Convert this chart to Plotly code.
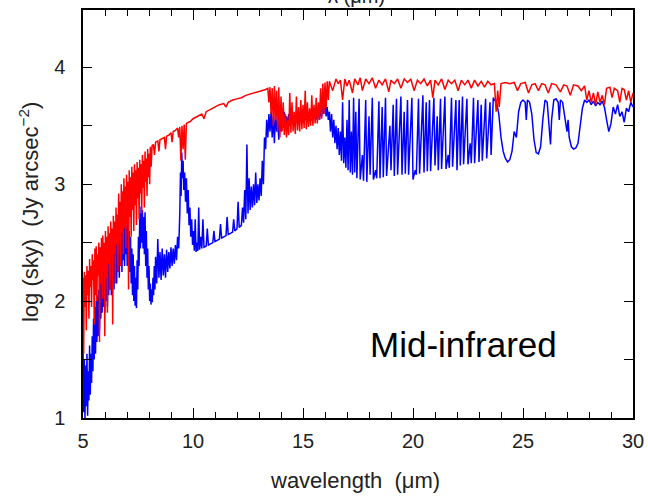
import plotly.graph_objects as go

# ---------------- data ----------------
red_x = [5.00, 5.03, 5.06, 5.09, 5.12, 5.15, 5.18, 5.21, 5.24, 5.27, 5.30, 5.33, 5.36, 5.39, 5.42, 5.45,
         5.48, 5.51, 5.54, 5.57, 5.60, 5.63, 5.66, 5.69, 5.72, 5.75, 5.78, 5.81, 5.84, 5.87, 5.90, 5.93,
         5.96, 5.99, 6.02, 6.05, 6.08, 6.11, 6.14, 6.17, 6.20, 6.23, 6.26, 6.29, 6.32, 6.35, 6.38, 6.41,
         6.44, 6.47, 6.50, 6.53, 6.56, 6.59, 6.62, 6.65, 6.68, 6.71, 6.74, 6.77, 6.80, 6.83, 6.86, 6.89,
         6.92, 6.95, 6.98, 7.01, 7.04, 7.07, 7.10, 7.13, 7.16, 7.19, 7.22, 7.25, 7.28, 7.31, 7.34, 7.37,
         7.40, 7.43, 7.46, 7.49, 7.52, 7.55, 7.58, 7.61, 7.64, 7.67, 7.70, 7.73, 7.76, 7.79, 7.82, 7.85,
         7.88, 7.91, 7.94, 7.97, 8.00, 8.03, 8.06, 8.10, 8.14,
         8.20, 8.25, 8.30, 8.40, 8.45, 8.50, 8.60, 8.70, 8.75, 8.80, 8.90, 9.00, 9.05, 9.10, 9.20, 9.30,
         9.35, 9.40, 9.45, 9.50, 9.55, 9.60, 9.65, 9.70, 9.80, 9.90, 10.0, 10.2, 10.4, 10.5, 10.6, 10.8,
         11.0, 11.2, 11.4, 11.5, 11.6, 11.8, 12.0, 12.2, 12.4, 12.6, 12.8, 13.0, 13.2, 13.3, 13.4,
         13.45, 13.50, 13.55, 13.60, 13.65, 13.70, 13.75, 13.80, 13.85, 13.90, 13.95, 14.00, 14.05, 14.10,
         14.15, 14.20, 14.25, 14.30, 14.35, 14.40, 14.45, 14.50, 14.55, 14.60, 14.65, 14.70, 14.75, 14.80,
         14.85, 14.90, 14.95, 15.00, 15.05, 15.10, 15.15, 15.20, 15.25, 15.30, 15.35, 15.40, 15.45, 15.50,
         15.55, 15.60, 15.65, 15.70, 15.75, 15.80, 15.85, 15.90, 15.95, 16.00, 16.05, 16.10, 16.15, 16.20,
         16.35, 16.50, 16.60, 16.70, 16.80, 16.90, 17.00, 17.10, 17.25, 17.35, 17.50, 17.60, 17.70, 17.85,
         18.00, 18.15, 18.30, 18.45, 18.60, 18.75, 18.90, 19.00, 19.15, 19.30, 19.45, 19.60, 19.75, 19.90,
         20.05, 20.20, 20.35, 20.50, 20.65, 20.80, 20.90, 21.00, 21.15, 21.30, 21.45, 21.60, 21.75, 21.90,
         22.05, 22.20, 22.35, 22.50, 22.65, 22.80, 22.95, 23.10, 23.25, 23.40, 23.55, 23.70, 23.78, 23.85,
         23.92, 24.00, 24.20, 24.40, 24.60, 24.75, 24.90, 25.10, 25.25, 25.40, 25.55, 25.70, 25.85, 26.00,
         26.15, 26.30, 26.50, 26.70, 26.85, 27.00, 27.15, 27.30, 27.50, 27.65, 27.80, 27.90, 28.00, 28.10,
         28.20, 28.30, 28.40, 28.50, 28.60, 28.70, 28.80, 28.95, 29.05, 29.15, 29.30, 29.40, 29.50, 29.60,
         29.70, 29.80, 29.90, 30.00]
red_y = [2.20, 1.55, 2.25, 1.95, 2.22, 1.75, 2.30, 2.05, 2.26, 1.85, 2.36, 2.12, 2.30, 1.95, 2.40, 2.18,
         2.35, 1.80, 2.45, 2.05, 2.47, 2.00, 2.40, 2.22, 2.50, 1.65, 2.46, 2.15, 2.54, 2.02, 2.56, 2.28,
         2.50, 1.70, 2.60, 2.20, 2.55, 1.90, 2.64, 2.32, 2.58, 2.10, 2.68, 2.38, 2.62, 1.80, 2.73, 2.40,
         2.68, 2.15, 2.80, 2.48, 2.74, 2.25, 2.92, 2.52, 2.85, 2.30, 3.00, 2.58, 2.94, 2.40, 3.05, 2.62,
         2.98, 2.45, 3.08, 2.66, 3.02, 2.10, 3.12, 2.72, 3.06, 2.55, 3.15, 2.78, 3.10, 2.60, 3.17, 2.82,
         3.12, 2.65, 3.19, 2.88, 3.14, 2.70, 3.21, 2.92, 3.17, 2.75, 3.25, 2.97, 3.20, 2.80, 3.28, 3.02,
         3.22, 2.90, 3.30, 3.06, 3.26, 3.00, 3.32, 3.15, 3.33,
         3.34, 3.25, 3.36, 3.37, 3.28, 3.38, 3.39, 3.40, 3.30, 3.41, 3.42, 3.44, 3.36, 3.45, 3.46, 3.48,
         3.40, 3.49, 3.20, 3.50, 3.30, 3.51, 3.21, 3.52, 3.53, 3.54, 3.56, 3.58, 3.60, 3.56, 3.62, 3.64,
         3.66, 3.68, 3.69, 3.66, 3.70, 3.72, 3.73, 3.74, 3.76, 3.77, 3.78, 3.79, 3.80, 3.81, 3.82,
         3.70, 3.83, 3.60, 3.82, 3.50, 3.84, 3.55, 3.80, 3.45, 3.83, 3.40, 3.75, 3.45, 3.70,
         3.42, 3.60, 3.40, 3.55, 3.42, 3.78, 3.44, 3.70, 3.45, 3.62, 3.43, 3.75, 3.46, 3.66,
         3.45, 3.72, 3.47, 3.68, 3.48, 3.80, 3.47, 3.70, 3.49, 3.65, 3.50, 3.76, 3.50, 3.68,
         3.52, 3.74, 3.52, 3.70, 3.55, 3.82, 3.56, 3.86, 3.60, 3.87, 3.65, 3.88, 3.72, 3.88,
         3.80, 3.90, 3.86, 3.89, 3.72, 3.90, 3.84, 3.89, 3.78, 3.90, 3.85, 3.91, 3.80, 3.90,
         3.86, 3.91, 3.82, 3.89, 3.85, 3.90, 3.79, 3.89, 3.86, 3.90, 3.82, 3.90, 3.87, 3.90,
         3.80, 3.89, 3.86, 3.90, 3.84, 3.89, 3.74, 3.89, 3.85, 3.90, 3.81, 3.89, 3.86, 3.89,
         3.80, 3.89, 3.85, 3.89, 3.82, 3.89, 3.84, 3.88, 3.83, 3.88, 3.85, 3.86, 3.62, 3.80,
         3.66, 3.86, 3.87, 3.86, 3.87, 3.80, 3.86, 3.87, 3.78, 3.85, 3.86, 3.80, 3.86, 3.85,
         3.78, 3.86, 3.85, 3.79, 3.85, 3.84, 3.76, 3.85, 3.84, 3.80, 3.84, 3.72, 3.80, 3.70,
         3.78, 3.68, 3.79, 3.70, 3.76, 3.68, 3.82, 3.83, 3.74, 3.82, 3.80, 3.70, 3.82, 3.81,
         3.72, 3.80, 3.70, 3.78]

blue_x = [5.00, 5.03, 5.06, 5.09, 5.12, 5.15, 5.18, 5.21, 5.24, 5.27, 5.30, 5.33, 5.36, 5.39, 5.42, 5.45,
          5.48, 5.51, 5.54, 5.57, 5.60, 5.63, 5.66, 5.69, 5.72, 5.75, 5.78, 5.81, 5.84, 5.87, 5.90, 5.93,
          5.96, 5.99, 6.02, 6.05, 6.08, 6.11, 6.14, 6.17, 6.20, 6.23, 6.26, 6.29, 6.32, 6.35, 6.38, 6.41,
          6.44, 6.47, 6.50, 6.53, 6.56, 6.59, 6.62, 6.65, 6.68, 6.71, 6.74, 6.77, 6.80, 6.83, 6.86, 6.89,
          6.92, 6.95, 6.98, 7.01, 7.04, 7.07, 7.10, 7.13, 7.16, 7.19, 7.22, 7.25, 7.28, 7.31, 7.34, 7.37,
          7.40, 7.43, 7.46, 7.49, 7.52, 7.55, 7.58, 7.61, 7.64, 7.67, 7.70, 7.73, 7.76, 7.79, 7.82, 7.85,
          7.88, 7.91, 7.94, 7.97, 8.00, 8.03, 8.06, 8.09, 8.12, 8.15, 8.18, 8.21, 8.24, 8.27, 8.30, 8.35,
          8.40, 8.45, 8.50, 8.55, 8.60, 8.65, 8.70, 8.75, 8.80, 8.85, 8.90, 8.95, 9.00, 9.05, 9.10, 9.15,
          9.20, 9.25, 9.30, 9.35, 9.40, 9.43, 9.46, 9.49, 9.52, 9.55, 9.58, 9.62, 9.66, 9.70, 9.74, 9.78,
          9.82, 9.86, 9.90, 9.94, 9.98, 10.02, 10.06, 10.10, 10.14, 10.18, 10.22, 10.26, 10.30, 10.35,
          10.40, 10.45, 10.50, 10.60, 10.65, 10.70, 10.80, 10.90, 10.95, 11.00, 11.10, 11.20, 11.25, 11.30,
          11.40, 11.50, 11.55, 11.60, 11.70, 11.80, 11.85, 11.90, 12.00, 12.05, 12.10, 12.20, 12.25, 12.30,
          12.35, 12.40, 12.45, 12.50, 12.55, 12.60, 12.65, 12.70, 12.75, 12.80, 12.85, 12.90, 12.95, 13.00,
          13.05, 13.10, 13.15, 13.20, 13.25, 13.30, 13.35, 13.40, 13.45, 13.50, 13.55, 13.60, 13.65, 13.70,
          13.75, 13.80, 13.85, 13.90, 13.95, 14.00, 14.05, 14.10, 14.15, 14.20, 14.25, 14.30, 14.35, 14.40,
          14.50, 14.60, 14.70, 14.80, 14.90, 15.00, 15.10, 15.20, 15.30, 15.40, 15.50, 15.60, 15.70, 15.75,
          15.80, 15.85, 15.90, 15.95, 16.00, 16.05, 16.10, 16.15, 16.20, 16.25, 16.30, 16.35, 16.40, 16.45,
          16.50, 16.55, 16.60, 16.65, 16.70, 16.75, 16.80, 16.85, 16.90, 16.95, 17.00, 17.05, 17.10, 17.15,
          17.20, 17.25, 17.30, 17.35, 17.40, 17.45, 17.55, 17.60, 17.70, 17.75, 17.85, 17.90, 18.00, 18.05,
          18.15, 18.20, 18.30, 18.35, 18.45, 18.50, 18.60, 18.65, 18.75, 18.80, 18.95, 19.00, 19.10, 19.15,
          19.25, 19.30, 19.45, 19.50, 19.60, 19.65, 19.75, 19.80, 19.95, 20.00, 20.10, 20.15, 20.25, 20.30,
          20.45, 20.50, 20.60, 20.65, 20.75, 20.80, 20.95, 21.00, 21.10, 21.15, 21.25, 21.30, 21.45, 21.50,
          21.60, 21.65, 21.75, 21.80, 21.95, 22.00, 22.10, 22.15, 22.25, 22.30, 22.45, 22.50, 22.60, 22.65,
          22.75, 22.80, 22.95, 23.00, 23.10, 23.15, 23.30, 23.35, 23.50, 23.55, 23.65, 23.70, 23.80, 23.90,
          24.00, 24.10, 24.20, 24.30, 24.40, 24.50, 24.60, 24.70, 24.80, 24.90, 25.00, 25.10, 25.15, 25.20,
          25.30, 25.40, 25.50, 25.60, 25.70, 25.80, 25.90, 26.00, 26.10, 26.20, 26.25, 26.30, 26.40, 26.50,
          26.60, 26.65, 26.70, 26.80, 26.90, 27.00, 27.05, 27.10, 27.20, 27.30, 27.40, 27.50, 27.60, 27.70,
          27.80, 27.90, 28.00, 28.10, 28.20, 28.30, 28.40, 28.50, 28.60, 28.70, 28.80, 28.90, 29.00, 29.10,
          29.20, 29.30, 29.40, 29.50, 29.60, 29.70, 29.80, 29.90, 30.00]
blue_y = [1.60, 1.05, 1.50, 1.00, 1.45, 1.10, 1.55, 1.02, 1.40, 1.15, 1.62, 1.20, 1.55, 1.30, 1.70, 1.40,
          1.85, 1.50, 1.95, 1.55, 2.00, 1.65, 2.05, 1.70, 2.10, 1.75, 2.15, 1.85, 2.20, 1.90, 2.25, 1.95,
          2.30, 1.90, 2.35, 2.00, 2.38, 1.95, 2.40, 2.05, 2.45, 2.10, 2.48, 2.05, 2.50, 2.15, 2.52, 2.10,
          2.55, 2.20, 2.58, 2.15, 2.60, 2.25, 2.62, 2.20, 2.64, 2.30, 2.66, 2.25, 2.68, 2.35, 2.66, 2.30,
          2.70, 2.40, 2.65, 2.30, 2.68, 2.35, 2.60, 2.25, 2.55, 2.15, 2.45, 2.05, 2.40, 2.00, 2.30, 1.96,
          2.20, 1.94, 2.35, 2.10, 2.55, 2.30, 2.75, 2.45, 2.81, 2.50, 2.78, 2.45, 2.72, 2.40, 2.76, 2.30,
          2.60, 2.20, 2.45, 2.10, 2.30, 2.00, 2.15, 1.97, 2.10, 1.99, 2.20, 2.05, 2.30, 2.10, 2.38, 2.15,
          2.53, 2.20, 2.42, 2.18, 2.45, 2.22, 2.40, 2.20, 2.44, 2.25, 2.42, 2.28, 2.46, 2.30, 2.45, 2.32,
          2.48, 2.35, 2.55, 2.45, 2.75, 3.10, 2.90, 3.27, 3.05, 3.20, 2.95, 3.10, 2.85, 3.05, 2.75, 2.95,
          2.65, 2.80, 2.55, 2.70, 2.48, 2.60, 2.43, 2.70, 2.42, 2.50, 2.43, 2.80, 2.44, 2.55,
          2.45, 2.70, 2.46, 2.47, 2.62, 2.48, 2.49, 2.50, 2.60, 2.51, 2.52, 2.53, 2.66, 2.54,
          2.55, 2.56, 2.72, 2.57, 2.58, 2.59, 2.70, 2.60, 2.62, 2.85, 2.63, 2.65, 2.80, 2.67,
          2.95, 2.70, 3.34, 2.75, 3.05, 2.78, 2.98, 2.80, 3.00, 2.82, 3.10, 2.84, 3.00, 2.86,
          3.05, 2.90, 3.20, 3.00, 3.40, 3.30, 3.55, 3.40, 3.60, 3.45, 3.62, 3.40, 3.58, 3.35,
          3.62, 3.45, 3.55, 3.38, 3.60, 3.45, 3.58, 3.48, 3.62, 3.50, 3.58, 3.48, 3.60, 3.50,
          3.55, 3.51, 3.54, 3.52, 3.55, 3.53, 3.56, 3.54, 3.57, 3.55, 3.58, 3.56, 3.60, 3.55,
          3.64, 3.58, 3.68, 3.60, 3.70, 3.58, 3.66, 3.55, 3.62, 3.45, 3.60, 3.40, 3.55, 3.35,
          3.50, 3.30, 3.48, 3.25, 3.45, 3.20, 3.70, 3.18, 3.40, 3.14, 3.55, 3.12, 3.72, 3.10,
          3.45, 3.08, 3.74, 3.10, 3.62, 3.05, 3.73, 3.04, 3.25, 3.03, 3.72, 3.02, 3.58, 3.08,
          3.74, 3.04, 3.12, 3.05, 3.71, 3.05, 3.66, 3.06, 3.74, 3.07, 3.50, 3.12, 3.68, 3.07,
          3.73, 3.08, 3.75, 3.08, 3.62, 3.09, 3.72, 3.08, 3.74, 3.04, 3.12, 3.08, 3.73, 3.09,
          3.76, 3.10, 3.70, 3.11, 3.72, 3.11, 3.74, 3.16, 3.58, 3.12, 3.73, 3.13, 3.75, 3.13,
          3.25, 3.14, 3.74, 3.15, 3.72, 3.12, 3.72, 3.16, 3.75, 3.17, 3.73, 3.17, 3.35, 3.18,
          3.74, 3.18, 3.72, 3.19, 3.68, 3.20, 3.73, 3.22, 3.70, 3.25, 3.74, 3.72, 3.70, 3.60,
          3.40, 3.28, 3.22, 3.19, 3.21, 3.28, 3.45, 3.40, 3.62, 3.70, 3.72, 3.70, 3.55, 3.72,
          3.70, 3.60, 3.38, 3.27, 3.26, 3.32, 3.55, 3.72, 3.70, 3.50, 3.34, 3.55, 3.72, 3.73,
          3.70, 3.55, 3.72, 3.70, 3.55, 3.45, 3.55, 3.40, 3.32, 3.30, 3.31, 3.35, 3.50, 3.65,
          3.72, 3.70, 3.72, 3.68, 3.71, 3.67, 3.70, 3.68, 3.71, 3.66, 3.55, 3.45, 3.52, 3.66,
          3.60, 3.68, 3.58, 3.62, 3.53, 3.65, 3.62, 3.70, 3.66]

x_ticks = [5, 10, 15, 20, 25, 30]
y_ticks = [1, 2, 3, 4]

# ---------------- figure ----------------
font_family = "Liberation Sans, Arial, Helvetica, sans-serif"

fig = go.Figure()
fig.add_trace(go.Scatter(x=blue_x, y=blue_y, mode="lines",
                         line=dict(color="#0000ff", width=1.5), showlegend=False))
fig.add_trace(go.Scatter(x=red_x, y=red_y, mode="lines",
                         line=dict(color="#ff0000", width=1.5), showlegend=False))

fig.update_layout(
    width=648, height=498,
    margin=dict(l=83, r=15, t=10, b=80, autoexpand=False),
    paper_bgcolor="white", plot_bgcolor="white",
    font=dict(family=font_family, color="#111111"),
    xaxis=dict(range=[5, 30], tickvals=x_ticks, ticks="inside", ticklen=10, tickwidth=1.2,
               tickcolor="black", showline=True, linecolor="black", linewidth=1.5,
               mirror="ticks", showgrid=False, zeroline=False, automargin=False,
               tickfont=dict(size=20, color="#222222"), ticklabelstandoff=4,
               minor=dict(dtick=1, ticks="inside", ticklen=6, tickwidth=1.2, tickcolor="black",
                          showgrid=False)),
    yaxis=dict(range=[1, 4.49], tickvals=y_ticks, ticks="inside",
               ticklen=9, tickwidth=1.2, tickcolor="black", showline=True, linecolor="black",
               linewidth=1.5, mirror="ticks", showgrid=False, zeroline=False, automargin=False,
               tickfont=dict(size=20, color="#222222"), ticklabelstandoff=12,
               minor=dict(dtick=0.5, tick0=1, ticks="inside", ticklen=9, tickwidth=1.2,
                          tickcolor="black", showgrid=False)),
    annotations=[
        dict(text="wavelength\u00a0\u00a0(μm)", xref="paper", yref="paper",
             x=0.495, y=-0.152, xanchor="center", yanchor="middle", showarrow=False,
             font=dict(size=22, color="#222222")),
        dict(text="log\u00a0(sky)\u00a0\u00a0(Jy\u00a0arcsec<sup>−2</sup>)", xref="paper", yref="paper",
             x=-0.098, y=0.505, xanchor="center", yanchor="middle", textangle=-90, showarrow=False,
             font=dict(size=22, color="#222222")),
        dict(text="λ\u00a0(μm)", xref="paper", yref="paper",
             x=0.497, y=1.0, xanchor="center", yanchor="bottom", yshift=1, showarrow=False,
             font=dict(size=20, color="#222222")),
        dict(text="Mid-infrared", xref="paper", yref="paper",
             x=(463 - 83) / 550, y=(418 - 344) / 408, xanchor="center", yanchor="middle",
             showarrow=False, font=dict(size=35, color="black")),
    ],
)

fig.write_html("out.html", config={"displayModeBar": False},
               post_script="document.body.style.margin='0px';")
